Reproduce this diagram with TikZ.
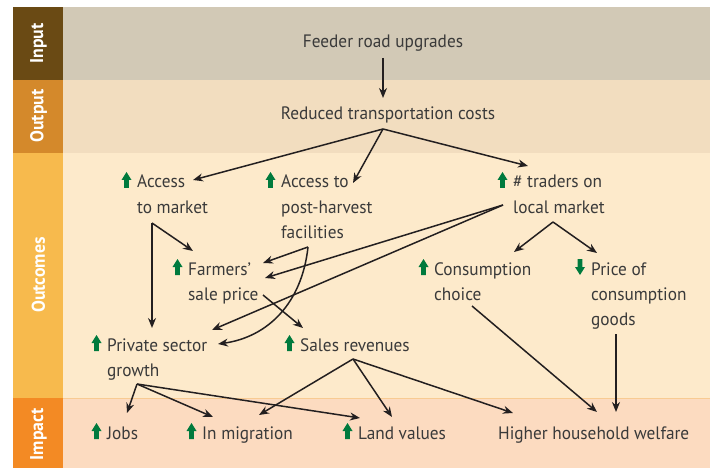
\documentclass[tikz,border=0pt]{standalone}
\usepackage{fontspec}
\setmainfont[FakeStretch=0.96]{PT Sans}
\usetikzlibrary{arrows.meta,calc}
\definecolor{inputL}{HTML}{6A4A14}
\definecolor{inputB}{HTML}{D2C9B6}
\definecolor{outputL}{HTML}{D4892B}
\definecolor{outputB}{HTML}{F2DDBF}
\definecolor{outcL}{HTML}{F7BA4D}
\definecolor{outcB}{HTML}{FDEACB}
\definecolor{impL}{HTML}{F38A24}
\definecolor{impB}{HTML}{FCDBC0}
\definecolor{divline}{HTML}{F8CB92}
\definecolor{txt}{HTML}{3A3A3A}
\definecolor{ico}{HTML}{007A3D}
\definecolor{arr}{HTML}{231F20}
\newcommand{\mlines}[1]{\begin{tabular}[t]{@{}l@{}}#1\end{tabular}}
\begin{document}
\begin{tikzpicture}[x=1pt,y=-1pt,
  lbl/.style={inner sep=0pt,anchor=base west,text=txt,font=\fontsize{18}{25.5}\selectfont},
  clbl/.style={lbl,anchor=base},
  band/.style={text=white,font=\fontsize{18.5}{20}\selectfont\bfseries,rotate=90,inner sep=0pt},
  conn/.style={draw=arr,line width=1.5pt,-{Stealth[length=10pt,width=8pt]}},
  upico/.pic={\fill[ico] (-2.3,0) -- (2.3,0) -- (2.3,-8) -- (5,-8) -- (0,-16) -- (-5,-8) -- (-2.3,-8) -- cycle;},
  downico/.pic={\fill[ico] (-2.3,-16) -- (2.3,-16) -- (2.3,-8) -- (5,-8) -- (0,0) -- (-5,-8) -- (-2.3,-8) -- cycle;}
]
\useasboundingbox (0,0) rectangle (710,468);
% bands
\fill[inputB] (63,7) rectangle (710,80);
\fill[outputB] (63,80) rectangle (710,153);
\fill[outcB] (63,153) rectangle (710,398);
\fill[impB] (63,398) rectangle (710,468);
\draw[divline,line width=0.8pt] (63,398) -- (710,398);
\fill[inputL] (13,7) rectangle (63,80);
\fill[outputL] (13,80) rectangle (63,153);
\fill[outcL] (13,153) rectangle (63,398);
\fill[impL] (13,398) rectangle (63,468);
\node[band] (bIn) at (38.5,43.5) {Input};
\node[band] (bOut) at (38.5,116) {Output};
\node[band] (bOc) at (38.5,275) {Outcomes};
\node[band] (bIm) at (38.5,434.5) {Impact};
% nodes
\node[clbl] (feeder) at (383,48) {Feeder road upgrades};
\node[clbl] (reduced) at (388,120) {Reduced transportation costs};
\node[lbl] (am) at (137,188) {\mlines{Access\\to market}};
\node[lbl] (ph) at (281,188) {\mlines{Access to\\post-harvest\\facilities}};
\node[lbl] (tr) at (513,188) {\mlines{\# traders on\\local market}};
\node[lbl] (fp) at (188,275) {\mlines{Farmers’\\sale price}};
\node[lbl] (cc) at (434,275) {\mlines{Consumption\\choice}};
\node[lbl] (pc) at (591,275) {\mlines{Price of\\consumption\\goods}};
\node[lbl] (ps) at (107,351) {\mlines{Private sector\\growth}};
\node[lbl] (sr) at (300,351) {Sales revenues};
\node[lbl] (jobs) at (107,439) {Jobs};
\node[lbl] (mig) at (202,439) {In migration};
\node[lbl] (land) at (358,439) {Land values};
\node[lbl] (hhw) at (498,439) {Higher household welfare};
% icons
\foreach \n in {am,ph,tr,fp,cc,ps,sr,jobs,mig,land}
  \pic at ($(\n.base west)+(-10.5,0)$) {upico};
\pic at ($(pc.base west)+(-11,0)$) {downico};
% hubs
\coordinate (rcH) at ($(reduced.base)+(-5,9)$);
\coordinate (amH) at ($(am.base west)+(15,35)$);
\coordinate (phH) at ($(ph.base west)+(27,59)$);
\coordinate (trH) at ($(tr.base west)+(-10,17)$);
\coordinate (trH2) at ($(tr.base west)+(40,34)$);
\coordinate (srH) at ($(sr.base west)+(53,8)$);
\coordinate (psH) at ($(ps.base west)+(30,33)$);
% connectors
\draw[conn] ($(feeder.base)+(0,10)$) -- ($(reduced.base)+(-5,-22)$);
\draw[conn] (rcH) -- ($(am.base west)+(56,-8)$);
\draw[conn] (rcH) -- ($(ph.base west)+(72,-5)$);
\draw[conn] (rcH) -- ($(tr.base west)+(15,-22)$);
\draw[conn] (amH) -- ($(ps.base west)+(45,-23)$);
\draw[conn] (amH) -- ($(fp.base west)+(5,-24)$);
\draw[conn] (phH) -- ($(fp.base west)+(75,-12)$);
\draw[conn] (phH) .. controls ($(phH)+(-6,56)$) and ($(phH)+(-40,90)$) .. ($(ps.base west)+(111,-7)$);
\draw[conn] (trH) -- ($(fp.base west)+(77,3)$);
\draw[conn] (trH) -- ($(ps.base west)+(105,-21)$);
\draw[conn] (trH2) -- ($(cc.base west)+(80,-23)$);
\draw[conn] (trH2) -- ($(pc.base west)+(6,-22)$);
\draw[conn] ($(fp.base west)+(75,20)$) -- ($(sr.base west)+(3,-23)$);
\draw[conn] ($(cc.base west)+(38,31)$) -- ($(hhw.base west)+(99,-27)$);
\draw[conn] ($(pc.base west)+(25,59)$) -- ($(hhw.base west)+(118,-27)$);
\draw[conn] (srH) -- ($(mig.base west)+(57,-24)$);
\draw[conn] (srH) -- ($(land.base west)+(34,-22)$);
\draw[conn] (srH) -- ($(hhw.base west)+(15,-26)$);
\draw[conn] (psH) -- ($(jobs.base west)+(20,-26)$);
\draw[conn] (psH) -- ($(mig.base west)+(11,-22)$);
\draw[conn] (psH) -- ($(land.base west)+(2,-21)$);
\end{tikzpicture}
\end{document}
